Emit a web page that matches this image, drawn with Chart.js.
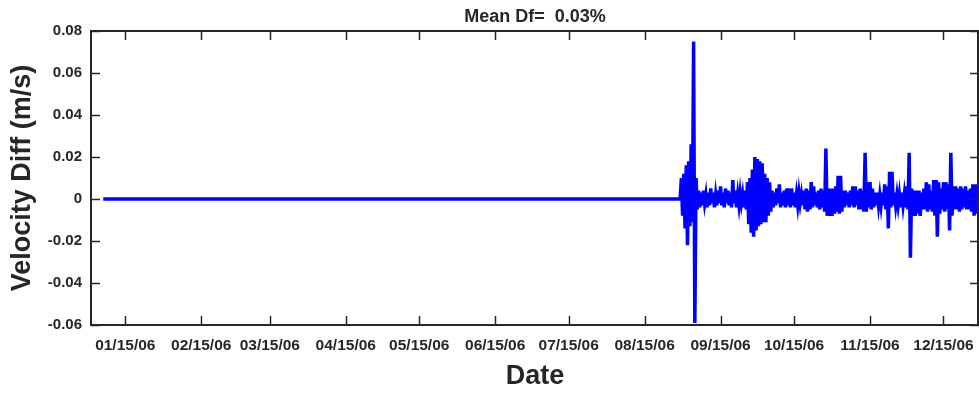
<!DOCTYPE html>
<html>
<head>
<meta charset="utf-8">
<script src="https://cdn.jsdelivr.net/npm/chart.js@4/dist/chart.umd.min.js"></script>
<style>
html,body{margin:0;padding:0;background:#fff;overflow:hidden;}
#wrap{width:979px;height:393px;position:relative;}
</style>
</head>
<body>
<div id="wrap"><canvas id="c" width="979" height="393"></canvas></div>
<script>
// ---- data ----
const titleText = 'Mean Df=  0.03%';
const xTitle = 'Date';
const yTitle = 'Velocity Diff (m/s)';
const xTickLabels = ['01/15/06','02/15/06','03/15/06','04/15/06','05/15/06','06/15/06',
                     '07/15/06','08/15/06','09/15/06','10/15/06','11/15/06','12/15/06'];
const yTickValues = [-0.06,-0.04,-0.02,0,0.02,0.04,0.06,0.08];
// days counted from 01/01/06
const xRangeDays = [0, 362.5];
const flatStartDay = 5;      // series starts, zero difference
const flatEndDay = 240.5;    // last zero sample before the disturbed period
const burstStartDay = 241;   // first day of daily envelope values
// daily max (upper) and min (lower) velocity difference, m/s, days 241..362
const upper = [
 0.010,0.012,0.016,0.018,0.026,0.075,0.010,0.004,0.003,0.004,
 0.002,0.003,0.005,0.003,0.002,0.004,0.006,0.003,0.005,0.004,
 0.003,0.009,0.004,0.002,0.003,0.002,0.004,0.008,0.010,0.014,
 0.020,0.019,0.018,0.017,0.012,0.010,0.008,0.004,0.003,0.005,
 0.007,0.003,0.004,0.005,0.005,0.005,0.003,0.002,0.003,0.002,
 0.004,0.005,0.004,0.008,0.006,0.003,0.004,0.005,0.004,0.024,
 0.005,0.005,0.005,0.006,0.011,0.011,0.004,0.004,0.003,0.004,
 0.006,0.006,0.004,0.005,0.004,0.022,0.008,0.008,0.005,0.003,
 0.003,0.002,0.003,0.007,0.006,0.013,0.013,0.003,0.002,0.002,
 0.003,0.002,0.006,0.022,0.005,0.004,0.004,0.004,0.003,0.005,
 0.008,0.007,0.004,0.009,0.009,0.008,0.005,0.008,0.008,0.007,
 0.022,0.006,0.006,0.005,0.006,0.005,0.006,0.004,0.005,0.007,
 0.007,0.006
];
const lower = [
 -0.008,-0.014,-0.022,-0.013,-0.011,-0.059,-0.005,-0.004,-0.003,-0.002,
 -0.004,-0.003,-0.002,-0.004,-0.003,-0.002,-0.003,-0.004,-0.002,-0.003,
 -0.004,-0.002,-0.004,-0.003,-0.002,-0.004,-0.005,-0.012,-0.016,-0.018,
 -0.015,-0.013,-0.012,-0.011,-0.011,-0.008,-0.006,-0.004,-0.003,-0.002,
 -0.004,-0.003,-0.004,-0.003,-0.004,-0.003,-0.004,-0.003,-0.002,-0.003,
 -0.005,-0.006,-0.005,-0.004,-0.003,-0.004,-0.005,-0.004,-0.006,-0.008,
 -0.008,-0.008,-0.007,-0.006,-0.007,-0.006,-0.004,-0.003,-0.004,-0.003,
 -0.004,-0.003,-0.005,-0.005,-0.006,-0.006,-0.004,-0.005,-0.004,-0.003,
 -0.003,-0.003,-0.003,-0.005,-0.014,-0.004,-0.003,-0.003,-0.003,-0.004,
 -0.003,-0.004,-0.005,-0.028,-0.008,-0.008,-0.007,-0.008,-0.005,-0.005,
 -0.006,-0.005,-0.006,-0.008,-0.018,-0.007,-0.005,-0.006,-0.005,-0.015,
 -0.008,-0.005,-0.005,-0.006,-0.005,-0.004,-0.005,-0.005,-0.006,-0.008,
 -0.007,-0.008
];

// ---- build the table the library needs ----
function labelToDay(s){
  const [m,d,y] = s.split('/').map(Number);
  return Math.round((Date.UTC(2000+y, m-1, d) - Date.UTC(2006,0,1)) / 86400000);
}
const xTickDays = xTickLabels.map(labelToDay);
const points = [{x:flatStartDay,y:0},{x:flatEndDay,y:0}];
for (let i = 0; i < upper.length; i++) {
  points.push({x: burstStartDay + i, y: upper[i]});
  points.push({x: burstStartDay + i + 0.5, y: lower[i]});
}

const ink = '#262626';
const FONT = '"Liberation Sans", Arial, Helvetica, sans-serif';

const boxPlugin = {
  id: 'matlabBox',
  afterDraw(chart) {
    const {ctx, chartArea: a, scales} = chart;
    ctx.save();
    ctx.strokeStyle = ink;
    ctx.lineWidth = 1.5;
    const tl = 9;
    ctx.beginPath();
    scales.x.ticks.forEach(t => {
      const px = Math.round(scales.x.getPixelForValue(t.value)) + 0.5;
      ctx.moveTo(px, a.bottom); ctx.lineTo(px, a.bottom - tl);
      ctx.moveTo(px, a.top); ctx.lineTo(px, a.top + tl);
    });
    scales.y.ticks.forEach(t => {
      const py = Math.round(scales.y.getPixelForValue(t.value)) + 0.5;
      ctx.moveTo(a.left, py); ctx.lineTo(a.left + tl, py);
      ctx.moveTo(a.right, py); ctx.lineTo(a.right - tl, py);
    });
    ctx.stroke();
    ctx.lineWidth = 2;
    ctx.strokeRect(a.left, a.top, a.right - a.left - 1, a.bottom - a.top);
    ctx.restore();
  }
};

new Chart(document.getElementById('c'), {
  type: 'line',
  data: {
    datasets: [{
      data: points,
      borderColor: '#0000ff',
      borderWidth: 3.5,
      pointRadius: 0,
      tension: 0,
      fill: false
    }]
  },
  options: {
    responsive: false,
    animation: false,
    layout: {padding: 0},
    plugins: {
      legend: {display: false},
      tooltip: {enabled: false},
      title: {
        display: true,
        text: titleText,
        fullSize: false,
        color: ink,
        font: {family: FONT, size: 18, weight: 'bold'},
        padding: {top: 6, bottom: 3.4}
      }
    },
    scales: {
      x: {
        type: 'linear',
        min: xRangeDays[0],
        max: xRangeDays[1],
        grid: {display: false, drawTicks: false},
        border: {display: false},
        afterBuildTicks(s) { s.ticks = xTickDays.map(v => ({value: v})); },
        afterFit(s) { s.height = 68; s.paddingLeft = 0; s.paddingRight = 0; },
        ticks: {
          autoSkip: false,
          maxRotation: 0,
          color: ink,
          padding: 11,
          font: {family: FONT, size: 15.5, weight: 'bold'},
          callback: (v, i) => xTickLabels[i]
        },
        title: {
          display: true, text: xTitle, color: ink,
          font: {family: FONT, size: 27, weight: 'bold'},
          padding: {top: 0, bottom: 0}
        }
      },
      y: {
        min: yTickValues[0],
        max: yTickValues[yTickValues.length - 1],
        grid: {display: false, drawTicks: false},
        border: {display: false},
        afterBuildTicks(s) { s.ticks = yTickValues.map(v => ({value: v})); },
        afterFit(s) { s.width = 91; s.paddingTop = 0; s.paddingBottom = 0; },
        ticks: {
          color: ink,
          padding: 9,
          font: {family: FONT, size: 15, weight: 'bold'},
          callback: v => Math.abs(v) < 1e-9 ? '0' : v.toFixed(2)
        },
        title: {
          display: true, text: yTitle, color: ink,
          font: {family: FONT, size: 27, weight: 'bold'},
          padding: {top: 6, bottom: 0}
        }
      }
    }
  },
  plugins: [boxPlugin]
});
</script>
</body>
</html>
